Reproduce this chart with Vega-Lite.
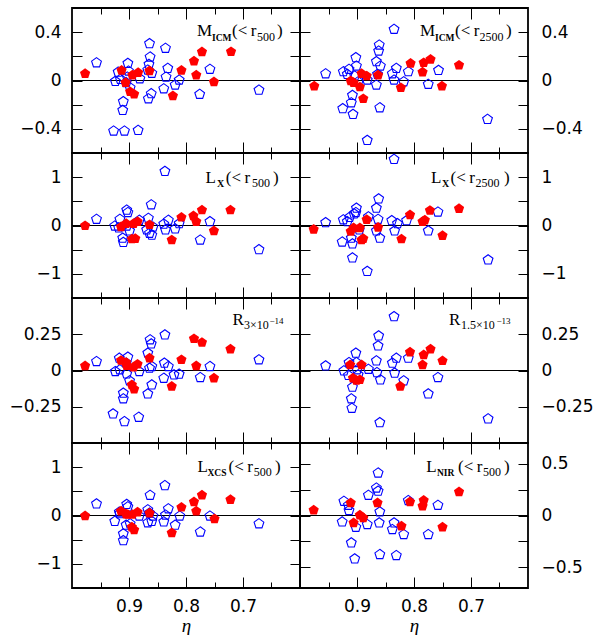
{
  "$schema": "https://vega.github.io/schema/vega-lite/v6.json",
  "background": "white",
  "padding": {"left": 5, "top": 6, "right": 5, "bottom": 5},
  "config": {
    "view": {"stroke": "black", "strokeWidth": 1.8},
    "axis": {"domain": false, "grid": false, "tickColor": "black", "tickWidth": 1, "labelFont": "DejaVu Sans", "labelFontSize": 17, "labelColor": "black", "labelOverlap": false, "labelFlush": false, "minExtent": 0},
    "text": {"font": "Liberation Serif", "color": "black", "align": "left", "baseline": "alphabetic"}
  },
  "datasets": {
    "m500": [
      {"set":"f","eta":0.977,"v":0.056},{"set":"f","eta":0.913,"v":0.084},{"set":"f","eta":0.906,"v":-0.018},{"set":"f","eta":0.898,"v":-0.093},{"set":"f","eta":0.891,"v":-0.114},{"set":"f","eta":0.894,"v":0.045},{"set":"f","eta":0.884,"v":0.065},{"set":"f","eta":0.864,"v":0.079},{"set":"f","eta":0.823,"v":-0.128},{"set":"f","eta":0.808,"v":0.084},{"set":"f","eta":0.786,"v":0.161},{"set":"f","eta":0.782,"v":0.045},{"set":"f","eta":0.772,"v":0.236},{"set":"f","eta":0.751,"v":-0.012},{"set":"f","eta":0.721,"v":0.238},
      {"set":"o","eta":0.957,"v":0.147},{"set":"o","eta":0.924,"v":-0.007},{"set":"o","eta":0.919,"v":0.070},{"set":"o","eta":0.915,"v":0.010},{"set":"o","eta":0.910,"v":-0.175},{"set":"o","eta":0.911,"v":-0.247},{"set":"o","eta":0.927,"v":-0.418},{"set":"o","eta":0.908,"v":-0.418},{"set":"o","eta":0.884,"v":-0.412},{"set":"o","eta":0.902,"v":0.142},{"set":"o","eta":0.901,"v":0.079},{"set":"o","eta":0.903,"v":0.029},{"set":"o","eta":0.905,"v":-0.018},{"set":"o","eta":0.898,"v":-0.060},{"set":"o","eta":0.881,"v":0.015},{"set":"o","eta":0.864,"v":0.305},{"set":"o","eta":0.863,"v":0.195},{"set":"o","eta":0.865,"v":0.134},{"set":"o","eta":0.867,"v":0.087},{"set":"o","eta":0.860,"v":0.060},{"set":"o","eta":0.861,"v":-0.109},{"set":"o","eta":0.866,"v":-0.151},{"set":"o","eta":0.836,"v":0.267},{"set":"o","eta":0.832,"v":0.101},{"set":"o","eta":0.835,"v":0.029},{"set":"o","eta":0.839,"v":-0.068},{"set":"o","eta":0.819,"v":-0.037},{"set":"o","eta":0.812,"v":0.004},{"set":"o","eta":0.776,"v":-0.114},{"set":"o","eta":0.758,"v":0.093},{"set":"o","eta":0.672,"v":-0.079}
    ],
    "m2500": [
      {"set":"f","eta":0.975,"v":-0.046},{"set":"f","eta":0.911,"v":-0.004},{"set":"f","eta":0.906,"v":-0.018},{"set":"f","eta":0.892,"v":0.056},{"set":"f","eta":0.883,"v":0.037},{"set":"f","eta":0.895,"v":-0.054},{"set":"f","eta":0.889,"v":-0.151},{"set":"f","eta":0.863,"v":0.045},{"set":"f","eta":0.823,"v":-0.060},{"set":"f","eta":0.806,"v":0.142},{"set":"f","eta":0.785,"v":0.070},{"set":"f","eta":0.783,"v":0.147},{"set":"f","eta":0.771,"v":0.175},{"set":"f","eta":0.751,"v":-0.046},{"set":"f","eta":0.721,"v":0.126},
      {"set":"o","eta":0.955,"v":0.056},{"set":"o","eta":0.924,"v":0.073},{"set":"o","eta":0.917,"v":0.051},{"set":"o","eta":0.914,"v":0.093},{"set":"o","eta":0.902,"v":0.189},{"set":"o","eta":0.901,"v":0.120},{"set":"o","eta":0.904,"v":0.037},{"set":"o","eta":0.898,"v":-0.010},{"set":"o","eta":0.908,"v":-0.123},{"set":"o","eta":0.910,"v":-0.184},{"set":"o","eta":0.925,"v":-0.233},{"set":"o","eta":0.907,"v":-0.280},{"set":"o","eta":0.882,"v":0.004},{"set":"o","eta":0.882,"v":-0.495},{"set":"o","eta":0.861,"v":0.294},{"set":"o","eta":0.862,"v":0.244},{"set":"o","eta":0.866,"v":0.156},{"set":"o","eta":0.859,"v":0.120},{"set":"o","eta":0.864,"v":0.051},{"set":"o","eta":0.866,"v":-0.037},{"set":"o","eta":0.860,"v":-0.225},{"set":"o","eta":0.835,"v":0.424},{"set":"o","eta":0.831,"v":0.101},{"set":"o","eta":0.838,"v":0.056},{"set":"o","eta":0.835,"v":0.004},{"set":"o","eta":0.818,"v":-0.010},{"set":"o","eta":0.810,"v":0.073},{"set":"o","eta":0.775,"v":-0.031},{"set":"o","eta":0.757,"v":0.084},{"set":"o","eta":0.671,"v":-0.321}
    ],
    "lx500": [
      {"set":"f","eta":0.977,"v":-0.005},{"set":"f","eta":0.914,"v":-0.03},{"set":"f","eta":0.905,"v":0.04},{"set":"f","eta":0.895,"v":-0.28},{"set":"f","eta":0.889,"v":-0.27},{"set":"f","eta":0.892,"v":0.04},{"set":"f","eta":0.885,"v":0.08},{"set":"f","eta":0.864,"v":0.015},{"set":"f","eta":0.825,"v":-0.30},{"set":"f","eta":0.808,"v":0.17},{"set":"f","eta":0.787,"v":0.20},{"set":"f","eta":0.782,"v":0.08},{"set":"f","eta":0.772,"v":0.32},{"set":"f","eta":0.751,"v":-0.11},{"set":"f","eta":0.722,"v":0.32},
      {"set":"o","eta":0.957,"v":0.13},{"set":"o","eta":0.925,"v":-0.01},{"set":"o","eta":0.916,"v":0.13},{"set":"o","eta":0.918,"v":-0.05},{"set":"o","eta":0.911,"v":-0.26},{"set":"o","eta":0.910,"v":-0.35},{"set":"o","eta":0.904,"v":0.32},{"set":"o","eta":0.902,"v":0.27},{"set":"o","eta":0.904,"v":-0.01},{"set":"o","eta":0.899,"v":-0.11},{"set":"o","eta":0.882,"v":0.11},{"set":"o","eta":0.861,"v":0.43},{"set":"o","eta":0.866,"v":0.15},{"set":"o","eta":0.869,"v":-0.09},{"set":"o","eta":0.864,"v":-0.16},{"set":"o","eta":0.860,"v":-0.20},{"set":"o","eta":0.858,"v":-0.03},{"set":"o","eta":0.837,"v":1.12},{"set":"o","eta":0.839,"v":0.03},{"set":"o","eta":0.836,"v":-0.09},{"set":"o","eta":0.831,"v":0.11},{"set":"o","eta":0.819,"v":-0.07},{"set":"o","eta":0.812,"v":0.04},{"set":"o","eta":0.775,"v":-0.30},{"set":"o","eta":0.758,"v":0.08},{"set":"o","eta":0.672,"v":-0.50}
    ],
    "lx2500": [
      {"set":"f","eta":0.976,"v":-0.08},{"set":"f","eta":0.911,"v":-0.12},{"set":"f","eta":0.906,"v":-0.05},{"set":"f","eta":0.895,"v":-0.05},{"set":"f","eta":0.892,"v":-0.30},{"set":"f","eta":0.889,"v":-0.27},{"set":"f","eta":0.883,"v":0.12},{"set":"f","eta":0.863,"v":-0.04},{"set":"f","eta":0.822,"v":-0.28},{"set":"f","eta":0.807,"v":0.22},{"set":"f","eta":0.785,"v":0.08},{"set":"f","eta":0.781,"v":0.11},{"set":"f","eta":0.772,"v":0.31},{"set":"f","eta":0.750,"v":-0.21},{"set":"f","eta":0.721,"v":0.35},
      {"set":"o","eta":0.955,"v":0.06},{"set":"o","eta":0.926,"v":-0.34},{"set":"o","eta":0.924,"v":0.12},{"set":"o","eta":0.917,"v":0.08},{"set":"o","eta":0.913,"v":0.17},{"set":"o","eta":0.910,"v":-0.26},{"set":"o","eta":0.908,"v":-0.38},{"set":"o","eta":0.908,"v":-0.67},{"set":"o","eta":0.905,"v":0.24},{"set":"o","eta":0.901,"v":0.36},{"set":"o","eta":0.902,"v":0.27},{"set":"o","eta":0.896,"v":-0.09},{"set":"o","eta":0.882,"v":-0.95},{"set":"o","eta":0.880,"v":0.18},{"set":"o","eta":0.866,"v":0.36},{"set":"o","eta":0.862,"v":0.55},{"set":"o","eta":0.863,"v":0.13},{"set":"o","eta":0.866,"v":-0.11},{"set":"o","eta":0.860,"v":-0.26},{"set":"o","eta":0.835,"v":1.37},{"set":"o","eta":0.839,"v":0.10},{"set":"o","eta":0.834,"v":-0.11},{"set":"o","eta":0.829,"v":0.04},{"set":"o","eta":0.813,"v":0.10},{"set":"o","eta":0.775,"v":-0.11},{"set":"o","eta":0.758,"v":0.28},{"set":"o","eta":0.670,"v":-0.71}
    ],
    "r14": [
      {"set":"f","eta":0.977,"v":0.032},{"set":"f","eta":0.914,"v":0.069},{"set":"f","eta":0.905,"v":0.055},{"set":"f","eta":0.904,"v":0.034},{"set":"f","eta":0.895,"v":-0.099},{"set":"f","eta":0.891,"v":-0.129},{"set":"f","eta":0.892,"v":0.023},{"set":"f","eta":0.885,"v":0.043},{"set":"f","eta":0.864,"v":0.085},{"set":"f","eta":0.825,"v":-0.110},{"set":"f","eta":0.808,"v":0.074},{"set":"f","eta":0.786,"v":0.219},{"set":"f","eta":0.782,"v":0.032},{"set":"f","eta":0.772,"v":0.193},{"set":"f","eta":0.751,"v":-0.053},{"set":"f","eta":0.722,"v":0.147},
      {"set":"o","eta":0.957,"v":0.062},{"set":"o","eta":0.928,"v":-0.299},{"set":"o","eta":0.924,"v":-0.007},{"set":"o","eta":0.917,"v":0.085},{"set":"o","eta":0.916,"v":0.005},{"set":"o","eta":0.908,"v":-0.352},{"set":"o","eta":0.910,"v":-0.156},{"set":"o","eta":0.910,"v":-0.195},{"set":"o","eta":0.904,"v":-0.023},{"set":"o","eta":0.902,"v":0.092},{"set":"o","eta":0.905,"v":0.051},{"set":"o","eta":0.899,"v":-0.071},{"set":"o","eta":0.883,"v":-0.322},{"set":"o","eta":0.882,"v":-0.007},{"set":"o","eta":0.867,"v":0.120},{"set":"o","eta":0.863,"v":0.212},{"set":"o","eta":0.861,"v":0.184},{"set":"o","eta":0.864,"v":0.016},{"set":"o","eta":0.860,"v":0.028},{"set":"o","eta":0.867,"v":-0.161},{"set":"o","eta":0.860,"v":-0.099},{"set":"o","eta":0.837,"v":0.246},{"set":"o","eta":0.838,"v":0.051},{"set":"o","eta":0.831,"v":0.028},{"set":"o","eta":0.839,"v":-0.053},{"set":"o","eta":0.821,"v":-0.030},{"set":"o","eta":0.812,"v":-0.025},{"set":"o","eta":0.775,"v":-0.048},{"set":"o","eta":0.758,"v":0.028},{"set":"o","eta":0.672,"v":0.074}
    ],
    "r13": [
      {"set":"f","eta":0.912,"v":0.039},{"set":"f","eta":0.907,"v":-0.053},{"set":"f","eta":0.901,"v":-0.069},{"set":"f","eta":0.895,"v":-0.064},{"set":"f","eta":0.892,"v":0.039},{"set":"f","eta":0.824,"v":-0.110},{"set":"f","eta":0.807,"v":0.126},{"set":"f","eta":0.785,"v":0.039},{"set":"f","eta":0.783,"v":0.108},{"set":"f","eta":0.771,"v":0.147},{"set":"f","eta":0.750,"v":0.067},
      {"set":"o","eta":0.955,"v":0.032},{"set":"o","eta":0.923,"v":-0.002},{"set":"o","eta":0.915,"v":-0.034},{"set":"o","eta":0.914,"v":0.055},{"set":"o","eta":0.908,"v":-0.115},{"set":"o","eta":0.910,"v":-0.195},{"set":"o","eta":0.909,"v":-0.260},{"set":"o","eta":0.902,"v":0.120},{"set":"o","eta":0.901,"v":0.055},{"set":"o","eta":0.900,"v":0.005},{"set":"o","eta":0.898,"v":-0.030},{"set":"o","eta":0.880,"v":0.009},{"set":"o","eta":0.862,"v":0.239},{"set":"o","eta":0.863,"v":0.170},{"set":"o","eta":0.866,"v":0.067},{"set":"o","eta":0.865,"v":-0.014},{"set":"o","eta":0.859,"v":-0.064},{"set":"o","eta":0.860,"v":-0.359},{"set":"o","eta":0.835,"v":0.372},{"set":"o","eta":0.838,"v":0.051},{"set":"o","eta":0.831,"v":0.085},{"set":"o","eta":0.834,"v":-0.018},{"set":"o","eta":0.818,"v":-0.071},{"set":"o","eta":0.810,"v":0.085},{"set":"o","eta":0.775,"v":-0.161},{"set":"o","eta":0.758,"v":-0.048},{"set":"o","eta":0.670,"v":-0.333}
    ],
    "lxcs": [
      {"set":"f","eta":0.977,"v":-0.01},{"set":"f","eta":0.914,"v":0.09},{"set":"f","eta":0.905,"v":0.03},{"set":"f","eta":0.902,"v":0.02},{"set":"f","eta":0.895,"v":-0.24},{"set":"f","eta":0.891,"v":-0.30},{"set":"f","eta":0.894,"v":0.02},{"set":"f","eta":0.885,"v":0.07},{"set":"f","eta":0.864,"v":0.05},{"set":"f","eta":0.825,"v":-0.36},{"set":"f","eta":0.808,"v":0.17},{"set":"f","eta":0.786,"v":0.28},{"set":"f","eta":0.782,"v":0.09},{"set":"f","eta":0.772,"v":0.42},{"set":"f","eta":0.750,"v":-0.07},{"set":"f","eta":0.722,"v":0.33},
      {"set":"o","eta":0.957,"v":0.24},{"set":"o","eta":0.925,"v":-0.12},{"set":"o","eta":0.917,"v":0.07},{"set":"o","eta":0.916,"v":0.04},{"set":"o","eta":0.910,"v":-0.38},{"set":"o","eta":0.910,"v":-0.52},{"set":"o","eta":0.904,"v":0.23},{"set":"o","eta":0.902,"v":0.18},{"set":"o","eta":0.905,"v":-0.20},{"set":"o","eta":0.898,"v":-0.17},{"set":"o","eta":0.882,"v":-0.01},{"set":"o","eta":0.863,"v":0.42},{"set":"o","eta":0.867,"v":0.12},{"set":"o","eta":0.864,"v":0.05},{"set":"o","eta":0.867,"v":-0.15},{"set":"o","eta":0.860,"v":-0.12},{"set":"o","eta":0.858,"v":-0.01},{"set":"o","eta":0.837,"v":0.62},{"set":"o","eta":0.839,"v":-0.13},{"set":"o","eta":0.836,"v":0.01},{"set":"o","eta":0.831,"v":0.14},{"set":"o","eta":0.819,"v":-0.20},{"set":"o","eta":0.811,"v":-0.01},{"set":"o","eta":0.775,"v":-0.34},{"set":"o","eta":0.758,"v":-0.01},{"set":"o","eta":0.672,"v":-0.17}
    ],
    "lnir": [
      {"set":"f","eta":0.976,"v":0.051},{"set":"f","eta":0.911,"v":0.122},{"set":"f","eta":0.906,"v":-0.071},{"set":"f","eta":0.895,"v":0.003},{"set":"f","eta":0.889,"v":-0.023},{"set":"f","eta":0.864,"v":0.122},{"set":"f","eta":0.822,"v":-0.103},{"set":"f","eta":0.807,"v":0.131},{"set":"f","eta":0.785,"v":0.090},{"set":"f","eta":0.783,"v":0.145},{"set":"f","eta":0.750,"v":-0.113},{"set":"f","eta":0.721,"v":0.228},
      {"set":"o","eta":0.926,"v":-0.062},{"set":"o","eta":0.923,"v":0.138},{"set":"o","eta":0.915,"v":0.099},{"set":"o","eta":0.914,"v":0.048},{"set":"o","eta":0.910,"v":-0.264},{"set":"o","eta":0.904,"v":-0.419},{"set":"o","eta":0.902,"v":-0.113},{"set":"o","eta":0.880,"v":0.196},{"set":"o","eta":0.882,"v":-0.087},{"set":"o","eta":0.863,"v":0.411},{"set":"o","eta":0.866,"v":0.266},{"set":"o","eta":0.863,"v":0.235},{"set":"o","eta":0.860,"v":0.035},{"set":"o","eta":0.861,"v":-0.071},{"set":"o","eta":0.860,"v":-0.376},{"set":"o","eta":0.835,"v":-0.071},{"set":"o","eta":0.838,"v":-0.135},{"set":"o","eta":0.831,"v":-0.386},{"set":"o","eta":0.818,"v":-0.183},{"set":"o","eta":0.810,"v":0.145},{"set":"o","eta":0.775,"v":-0.183},{"set":"o","eta":0.758,"v":0.099}
    ]
  },
  "columns": 2,
  "spacing": 0,
  "bounds": "flush",
  "concat": [
      {"width": 228, "height": 145, "data": {"values": [{}]},
       "resolve": {"axis": {"x": "independent", "y": "independent"}},
       "layer": [
        {"mark": {"type": "rule", "color": "black", "strokeWidth": 1},
         "encoding": {
          "x": {"datum": 1, "type": "quantitative", "scale": {"domain": [1, 0.6], "nice": false, "zero": false}, "axis": {"orient": "bottom", "values": [0.9, 0.8, 0.7], "tickSize": -11, "labels": false, "title": null}},
          "x2": {"datum": 0.6},
          "y": {"datum": 0, "type": "quantitative", "scale": {"domain": [-0.6, 0.6], "nice": false}, "axis": {"orient": "left", "values": [-0.4, -0.2, 0, 0.2, 0.4], "tickSize": -10, "labelPadding": 21, "format": "~g", "labelExpr": "datum.value == 0 || abs(datum.value) == 0.4 ? datum.label : ''", "minExtent": 66, "maxExtent": 66, "title": null}}}},
        {"data": {"name": "m500"}, "transform": [{"filter": "datum.set == 'o'"}],
         "mark": {"type": "point", "shape": "M0,-1L0.951,-0.309L0.588,0.809L-0.588,0.809L-0.951,-0.309Z", "filled": false, "stroke": "#0000ff", "strokeWidth": 1.1, "size": 105, "opacity": 1},
         "encoding": {
          "x": {"field": "eta", "type": "quantitative", "scale": {"domain": [1, 0.6], "nice": false, "zero": false}, "axis": {"orient": "top", "values": [0.9, 0.8, 0.7], "tickSize": -11, "labels": false, "title": null}},
          "y": {"field": "v", "type": "quantitative", "scale": {"domain": [-0.6, 0.6], "nice": false}, "axis": {"orient": "right", "values": [-0.4, -0.2, 0, 0.2, 0.4], "tickSize": -10, "labels": false, "title": null}}}},
        {"data": {"name": "m500"}, "transform": [{"filter": "datum.set == 'f'"}],
         "mark": {"type": "point", "shape": "M0,-1L0.951,-0.309L0.588,0.809L-0.588,0.809L-0.951,-0.309Z", "filled": true, "color": "#ff0000", "size": 115, "opacity": 1},
         "encoding": {
          "x": {"field": "eta", "type": "quantitative", "scale": {"domain": [1, 0.6], "nice": false, "zero": false}, "axis": {"orient": "bottom", "values": [0.95, 0.85, 0.75, 0.65], "tickSize": -6, "labels": false, "title": null}},
          "y": {"field": "v", "type": "quantitative", "scale": {"domain": [-0.6, 0.6], "nice": false}, "axis": null}}},
        {"mark": {"type": "text", "text": "M", "fontSize": 17, "dx": -103, "dy": 28},
         "encoding": {"x": {"datum": 0.6, "type": "quantitative", "scale": {"domain": [1, 0.6], "nice": false, "zero": false}, "axis": {"orient": "top", "values": [0.95, 0.85, 0.75, 0.65], "tickSize": -6, "labels": false, "title": null}},
          "y": {"datum": 0.6, "type": "quantitative", "scale": {"domain": [-0.6, 0.6], "nice": false}, "axis": null}}},
        {"mark": {"type": "text", "text": "ICM", "fontSize": 9.5, "fontWeight": "bold", "dx": -88, "dy": 33},
         "encoding": {"x": {"datum": 0.6, "type": "quantitative", "scale": {"domain": [1, 0.6], "nice": false, "zero": false}, "axis": null}, "y": {"datum": 0.6, "type": "quantitative", "scale": {"domain": [-0.6, 0.6], "nice": false}, "axis": null}}},
        {"mark": {"type": "text", "text": "(<\u2009r", "fontSize": 17, "dx": -68, "dy": 28},
         "encoding": {"x": {"datum": 0.6, "type": "quantitative", "scale": {"domain": [1, 0.6], "nice": false, "zero": false}, "axis": null}, "y": {"datum": 0.6, "type": "quantitative", "scale": {"domain": [-0.6, 0.6], "nice": false}, "axis": null}}},
        {"mark": {"type": "text", "text": "500", "fontSize": 12, "dx": -43, "dy": 33},
         "encoding": {"x": {"datum": 0.6, "type": "quantitative", "scale": {"domain": [1, 0.6], "nice": false, "zero": false}, "axis": null}, "y": {"datum": 0.6, "type": "quantitative", "scale": {"domain": [-0.6, 0.6], "nice": false}, "axis": null}}},
        {"mark": {"type": "text", "text": ")", "fontSize": 17, "dx": -23, "dy": 28},
         "encoding": {"x": {"datum": 0.6, "type": "quantitative", "scale": {"domain": [1, 0.6], "nice": false, "zero": false}, "axis": null}, "y": {"datum": 0.6, "type": "quantitative", "scale": {"domain": [-0.6, 0.6], "nice": false}, "axis": null}}}
       ]},
      {"width": 228, "height": 145, "data": {"values": [{}]},
       "resolve": {"axis": {"x": "independent", "y": "independent"}},
       "layer": [
        {"mark": {"type": "rule", "color": "black", "strokeWidth": 1},
         "encoding": {
          "x": {"datum": 1, "type": "quantitative", "scale": {"domain": [1, 0.6], "nice": false, "zero": false}, "axis": {"orient": "bottom", "values": [0.9, 0.8, 0.7], "tickSize": -11, "labels": false, "title": null}},
          "x2": {"datum": 0.6},
          "y": {"datum": 0, "type": "quantitative", "scale": {"domain": [-0.6, 0.6], "nice": false}, "axis": {"orient": "left", "values": [-0.4, -0.2, 0, 0.2, 0.4], "tickSize": -10, "labels": false, "title": null}}}},
        {"data": {"name": "m2500"}, "transform": [{"filter": "datum.set == 'o'"}],
         "mark": {"type": "point", "shape": "M0,-1L0.951,-0.309L0.588,0.809L-0.588,0.809L-0.951,-0.309Z", "filled": false, "stroke": "#0000ff", "strokeWidth": 1.1, "size": 105, "opacity": 1},
         "encoding": {
          "x": {"field": "eta", "type": "quantitative", "scale": {"domain": [1, 0.6], "nice": false, "zero": false}, "axis": {"orient": "top", "values": [0.9, 0.8, 0.7], "tickSize": -11, "labels": false, "title": null}},
          "y": {"field": "v", "type": "quantitative", "scale": {"domain": [-0.6, 0.6], "nice": false}, "axis": {"orient": "right", "values": [-0.4, -0.2, 0, 0.2, 0.4], "tickSize": -10, "labelPadding": 23, "format": "~g", "labelExpr": "datum.value == 0 || abs(datum.value) == 0.4 ? datum.label : ''", "title": null}}}},
        {"data": {"name": "m2500"}, "transform": [{"filter": "datum.set == 'f'"}],
         "mark": {"type": "point", "shape": "M0,-1L0.951,-0.309L0.588,0.809L-0.588,0.809L-0.951,-0.309Z", "filled": true, "color": "#ff0000", "size": 115, "opacity": 1},
         "encoding": {
          "x": {"field": "eta", "type": "quantitative", "scale": {"domain": [1, 0.6], "nice": false, "zero": false}, "axis": {"orient": "bottom", "values": [0.95, 0.85, 0.75, 0.65], "tickSize": -6, "labels": false, "title": null}},
          "y": {"field": "v", "type": "quantitative", "scale": {"domain": [-0.6, 0.6], "nice": false}, "axis": null}}},
        {"mark": {"type": "text", "text": "M", "fontSize": 17, "dx": -108, "dy": 28},
         "encoding": {"x": {"datum": 0.6, "type": "quantitative", "scale": {"domain": [1, 0.6], "nice": false, "zero": false}, "axis": {"orient": "top", "values": [0.95, 0.85, 0.75, 0.65], "tickSize": -6, "labels": false, "title": null}},
          "y": {"datum": 0.6, "type": "quantitative", "scale": {"domain": [-0.6, 0.6], "nice": false}, "axis": null}}},
        {"mark": {"type": "text", "text": "ICM", "fontSize": 9.5, "fontWeight": "bold", "dx": -93, "dy": 33},
         "encoding": {"x": {"datum": 0.6, "type": "quantitative", "scale": {"domain": [1, 0.6], "nice": false, "zero": false}, "axis": null}, "y": {"datum": 0.6, "type": "quantitative", "scale": {"domain": [-0.6, 0.6], "nice": false}, "axis": null}}},
        {"mark": {"type": "text", "text": "(<\u2009r", "fontSize": 17, "dx": -73, "dy": 28},
         "encoding": {"x": {"datum": 0.6, "type": "quantitative", "scale": {"domain": [1, 0.6], "nice": false, "zero": false}, "axis": null}, "y": {"datum": 0.6, "type": "quantitative", "scale": {"domain": [-0.6, 0.6], "nice": false}, "axis": null}}},
        {"mark": {"type": "text", "text": "2500", "fontSize": 12, "dx": -48.5, "dy": 33},
         "encoding": {"x": {"datum": 0.6, "type": "quantitative", "scale": {"domain": [1, 0.6], "nice": false, "zero": false}, "axis": null}, "y": {"datum": 0.6, "type": "quantitative", "scale": {"domain": [-0.6, 0.6], "nice": false}, "axis": null}}},
        {"mark": {"type": "text", "text": ")", "fontSize": 17, "dx": -22, "dy": 28},
         "encoding": {"x": {"datum": 0.6, "type": "quantitative", "scale": {"domain": [1, 0.6], "nice": false, "zero": false}, "axis": null}, "y": {"datum": 0.6, "type": "quantitative", "scale": {"domain": [-0.6, 0.6], "nice": false}, "axis": null}}}
       ]},
      {"width": 228, "height": 145, "data": {"values": [{}]},
       "resolve": {"axis": {"x": "independent", "y": "independent"}},
       "layer": [
        {"mark": {"type": "rule", "color": "black", "strokeWidth": 1},
         "encoding": {
          "x": {"datum": 1, "type": "quantitative", "scale": {"domain": [1, 0.6], "nice": false, "zero": false}, "axis": {"orient": "bottom", "values": [0.9, 0.8, 0.7], "tickSize": -11, "labels": false, "title": null}},
          "x2": {"datum": 0.6},
          "y": {"datum": 0, "type": "quantitative", "scale": {"domain": [-1.5, 1.5], "nice": false}, "axis": {"orient": "left", "values": [-1, -0.5, 0, 0.5, 1], "tickSize": -10, "labelPadding": 21, "format": "~g", "labelExpr": "datum.value % 1 == 0 ? datum.label : ''", "minExtent": 66, "maxExtent": 66, "title": null}}}},
        {"data": {"name": "lx500"}, "transform": [{"filter": "datum.set == 'o'"}],
         "mark": {"type": "point", "shape": "M0,-1L0.951,-0.309L0.588,0.809L-0.588,0.809L-0.951,-0.309Z", "filled": false, "stroke": "#0000ff", "strokeWidth": 1.1, "size": 105, "opacity": 1},
         "encoding": {
          "x": {"field": "eta", "type": "quantitative", "scale": {"domain": [1, 0.6], "nice": false, "zero": false}, "axis": {"orient": "top", "values": [0.9, 0.8, 0.7], "tickSize": -11, "labels": false, "title": null}},
          "y": {"field": "v", "type": "quantitative", "scale": {"domain": [-1.5, 1.5], "nice": false}, "axis": {"orient": "right", "values": [-1, -0.5, 0, 0.5, 1], "tickSize": -10, "labels": false, "title": null}}}},
        {"data": {"name": "lx500"}, "transform": [{"filter": "datum.set == 'f'"}],
         "mark": {"type": "point", "shape": "M0,-1L0.951,-0.309L0.588,0.809L-0.588,0.809L-0.951,-0.309Z", "filled": true, "color": "#ff0000", "size": 115, "opacity": 1},
         "encoding": {
          "x": {"field": "eta", "type": "quantitative", "scale": {"domain": [1, 0.6], "nice": false, "zero": false}, "axis": {"orient": "bottom", "values": [0.95, 0.85, 0.75, 0.65], "tickSize": -6, "labels": false, "title": null}},
          "y": {"field": "v", "type": "quantitative", "scale": {"domain": [-1.5, 1.5], "nice": false}, "axis": null}}},
        {"mark": {"type": "text", "text": "L", "fontSize": 17, "dx": -94.5, "dy": 29.5},
         "encoding": {"x": {"datum": 0.6, "type": "quantitative", "scale": {"domain": [1, 0.6], "nice": false, "zero": false}, "axis": {"orient": "top", "values": [0.95, 0.85, 0.75, 0.65], "tickSize": -6, "labels": false, "title": null}},
          "y": {"datum": 1.5, "type": "quantitative", "scale": {"domain": [-1.5, 1.5], "nice": false}, "axis": null}}},
        {"mark": {"type": "text", "text": "X", "fontSize": 10, "fontWeight": "bold", "dx": -83, "dy": 34},
         "encoding": {"x": {"datum": 0.6, "type": "quantitative", "scale": {"domain": [1, 0.6], "nice": false, "zero": false}, "axis": null}, "y": {"datum": 1.5, "type": "quantitative", "scale": {"domain": [-1.5, 1.5], "nice": false}, "axis": null}}},
        {"mark": {"type": "text", "text": "(<\u2009r", "fontSize": 17, "dx": -74.2, "dy": 29.5},
         "encoding": {"x": {"datum": 0.6, "type": "quantitative", "scale": {"domain": [1, 0.6], "nice": false, "zero": false}, "axis": null}, "y": {"datum": 1.5, "type": "quantitative", "scale": {"domain": [-1.5, 1.5], "nice": false}, "axis": null}}},
        {"mark": {"type": "text", "text": "500", "fontSize": 12, "dx": -48, "dy": 34},
         "encoding": {"x": {"datum": 0.6, "type": "quantitative", "scale": {"domain": [1, 0.6], "nice": false, "zero": false}, "axis": null}, "y": {"datum": 1.5, "type": "quantitative", "scale": {"domain": [-1.5, 1.5], "nice": false}, "axis": null}}},
        {"mark": {"type": "text", "text": ")", "fontSize": 17, "dx": -27, "dy": 29.5},
         "encoding": {"x": {"datum": 0.6, "type": "quantitative", "scale": {"domain": [1, 0.6], "nice": false, "zero": false}, "axis": null}, "y": {"datum": 1.5, "type": "quantitative", "scale": {"domain": [-1.5, 1.5], "nice": false}, "axis": null}}}
       ]},
      {"width": 228, "height": 145, "data": {"values": [{}]},
       "resolve": {"axis": {"x": "independent", "y": "independent"}},
       "layer": [
        {"mark": {"type": "rule", "color": "black", "strokeWidth": 1},
         "encoding": {
          "x": {"datum": 1, "type": "quantitative", "scale": {"domain": [1, 0.6], "nice": false, "zero": false}, "axis": {"orient": "bottom", "values": [0.9, 0.8, 0.7], "tickSize": -11, "labels": false, "title": null}},
          "x2": {"datum": 0.6},
          "y": {"datum": 0, "type": "quantitative", "scale": {"domain": [-1.5, 1.5], "nice": false}, "axis": {"orient": "left", "values": [-1, -0.5, 0, 0.5, 1], "tickSize": -10, "labels": false, "title": null}}}},
        {"data": {"name": "lx2500"}, "transform": [{"filter": "datum.set == 'o'"}],
         "mark": {"type": "point", "shape": "M0,-1L0.951,-0.309L0.588,0.809L-0.588,0.809L-0.951,-0.309Z", "filled": false, "stroke": "#0000ff", "strokeWidth": 1.1, "size": 105, "opacity": 1},
         "encoding": {
          "x": {"field": "eta", "type": "quantitative", "scale": {"domain": [1, 0.6], "nice": false, "zero": false}, "axis": {"orient": "top", "values": [0.9, 0.8, 0.7], "tickSize": -11, "labels": false, "title": null}},
          "y": {"field": "v", "type": "quantitative", "scale": {"domain": [-1.5, 1.5], "nice": false}, "axis": {"orient": "right", "values": [-1, -0.5, 0, 0.5, 1], "tickSize": -10, "labelPadding": 23, "format": "~g", "labelExpr": "datum.value % 1 == 0 ? datum.label : ''", "title": null}}}},
        {"data": {"name": "lx2500"}, "transform": [{"filter": "datum.set == 'f'"}],
         "mark": {"type": "point", "shape": "M0,-1L0.951,-0.309L0.588,0.809L-0.588,0.809L-0.951,-0.309Z", "filled": true, "color": "#ff0000", "size": 115, "opacity": 1},
         "encoding": {
          "x": {"field": "eta", "type": "quantitative", "scale": {"domain": [1, 0.6], "nice": false, "zero": false}, "axis": {"orient": "bottom", "values": [0.95, 0.85, 0.75, 0.65], "tickSize": -6, "labels": false, "title": null}},
          "y": {"field": "v", "type": "quantitative", "scale": {"domain": [-1.5, 1.5], "nice": false}, "axis": null}}},
        {"mark": {"type": "text", "text": "L", "fontSize": 17, "dx": -97, "dy": 29.5},
         "encoding": {"x": {"datum": 0.6, "type": "quantitative", "scale": {"domain": [1, 0.6], "nice": false, "zero": false}, "axis": {"orient": "top", "values": [0.95, 0.85, 0.75, 0.65], "tickSize": -6, "labels": false, "title": null}},
          "y": {"datum": 1.5, "type": "quantitative", "scale": {"domain": [-1.5, 1.5], "nice": false}, "axis": null}}},
        {"mark": {"type": "text", "text": "X", "fontSize": 10, "fontWeight": "bold", "dx": -86, "dy": 34},
         "encoding": {"x": {"datum": 0.6, "type": "quantitative", "scale": {"domain": [1, 0.6], "nice": false, "zero": false}, "axis": null}, "y": {"datum": 1.5, "type": "quantitative", "scale": {"domain": [-1.5, 1.5], "nice": false}, "axis": null}}},
        {"mark": {"type": "text", "text": "(<\u2009r", "fontSize": 17, "dx": -77.5, "dy": 29.5},
         "encoding": {"x": {"datum": 0.6, "type": "quantitative", "scale": {"domain": [1, 0.6], "nice": false, "zero": false}, "axis": null}, "y": {"datum": 1.5, "type": "quantitative", "scale": {"domain": [-1.5, 1.5], "nice": false}, "axis": null}}},
        {"mark": {"type": "text", "text": "2500", "fontSize": 12, "dx": -52.5, "dy": 34},
         "encoding": {"x": {"datum": 0.6, "type": "quantitative", "scale": {"domain": [1, 0.6], "nice": false, "zero": false}, "axis": null}, "y": {"datum": 1.5, "type": "quantitative", "scale": {"domain": [-1.5, 1.5], "nice": false}, "axis": null}}},
        {"mark": {"type": "text", "text": ")", "fontSize": 17, "dx": -24, "dy": 29.5},
         "encoding": {"x": {"datum": 0.6, "type": "quantitative", "scale": {"domain": [1, 0.6], "nice": false, "zero": false}, "axis": null}, "y": {"datum": 1.5, "type": "quantitative", "scale": {"domain": [-1.5, 1.5], "nice": false}, "axis": null}}}
       ]},
      {"width": 228, "height": 145, "data": {"values": [{}]},
       "resolve": {"axis": {"x": "independent", "y": "independent"}},
       "layer": [
        {"mark": {"type": "rule", "color": "black", "strokeWidth": 1},
         "encoding": {
          "x": {"datum": 1, "type": "quantitative", "scale": {"domain": [1, 0.6], "nice": false, "zero": false}, "axis": {"orient": "bottom", "values": [0.9, 0.8, 0.7], "tickSize": -11, "labels": false, "title": null}},
          "x2": {"datum": 0.6},
          "y": {"datum": 0, "type": "quantitative", "scale": {"domain": [-0.5, 0.5], "nice": false}, "axis": {"orient": "left", "values": [-0.25, 0, 0.25], "tickSize": -10, "labelPadding": 21, "format": "~g", "minExtent": 66, "maxExtent": 66, "title": null}}}},
        {"data": {"name": "r14"}, "transform": [{"filter": "datum.set == 'o'"}],
         "mark": {"type": "point", "shape": "M0,-1L0.951,-0.309L0.588,0.809L-0.588,0.809L-0.951,-0.309Z", "filled": false, "stroke": "#0000ff", "strokeWidth": 1.1, "size": 105, "opacity": 1},
         "encoding": {
          "x": {"field": "eta", "type": "quantitative", "scale": {"domain": [1, 0.6], "nice": false, "zero": false}, "axis": {"orient": "top", "values": [0.9, 0.8, 0.7], "tickSize": -11, "labels": false, "title": null}},
          "y": {"field": "v", "type": "quantitative", "scale": {"domain": [-0.5, 0.5], "nice": false}, "axis": {"orient": "right", "values": [-0.25, 0, 0.25], "tickSize": -10, "labels": false, "title": null}}}},
        {"data": {"name": "r14"}, "transform": [{"filter": "datum.set == 'f'"}],
         "mark": {"type": "point", "shape": "M0,-1L0.951,-0.309L0.588,0.809L-0.588,0.809L-0.951,-0.309Z", "filled": true, "color": "#ff0000", "size": 115, "opacity": 1},
         "encoding": {
          "x": {"field": "eta", "type": "quantitative", "scale": {"domain": [1, 0.6], "nice": false, "zero": false}, "axis": {"orient": "bottom", "values": [0.95, 0.85, 0.75, 0.65], "tickSize": -6, "labels": false, "title": null}},
          "y": {"field": "v", "type": "quantitative", "scale": {"domain": [-0.5, 0.5], "nice": false}, "axis": null}}},
        {"mark": {"type": "text", "text": "R", "fontSize": 17, "dx": -67.5, "dy": 27},
         "encoding": {"x": {"datum": 0.6, "type": "quantitative", "scale": {"domain": [1, 0.6], "nice": false, "zero": false}, "axis": {"orient": "top", "values": [0.95, 0.85, 0.75, 0.65], "tickSize": -6, "labels": false, "title": null}},
          "y": {"datum": 0.5, "type": "quantitative", "scale": {"domain": [-0.5, 0.5], "nice": false}, "axis": null}}},
        {"mark": {"type": "text", "text": "3×10", "fontSize": 12, "dx": -56, "dy": 31},
         "encoding": {"x": {"datum": 0.6, "type": "quantitative", "scale": {"domain": [1, 0.6], "nice": false, "zero": false}, "axis": null}, "y": {"datum": 0.5, "type": "quantitative", "scale": {"domain": [-0.5, 0.5], "nice": false}, "axis": null}}},
        {"mark": {"type": "text", "text": "−14", "fontSize": 9, "dx": -30.5, "dy": 26},
         "encoding": {"x": {"datum": 0.6, "type": "quantitative", "scale": {"domain": [1, 0.6], "nice": false, "zero": false}, "axis": null}, "y": {"datum": 0.5, "type": "quantitative", "scale": {"domain": [-0.5, 0.5], "nice": false}, "axis": null}}}
       ]},
      {"width": 228, "height": 145, "data": {"values": [{}]},
       "resolve": {"axis": {"x": "independent", "y": "independent"}},
       "layer": [
        {"mark": {"type": "rule", "color": "black", "strokeWidth": 1},
         "encoding": {
          "x": {"datum": 1, "type": "quantitative", "scale": {"domain": [1, 0.6], "nice": false, "zero": false}, "axis": {"orient": "bottom", "values": [0.9, 0.8, 0.7], "tickSize": -11, "labels": false, "title": null}},
          "x2": {"datum": 0.6},
          "y": {"datum": 0, "type": "quantitative", "scale": {"domain": [-0.5, 0.5], "nice": false}, "axis": {"orient": "left", "values": [-0.25, 0, 0.25], "tickSize": -10, "labels": false, "title": null}}}},
        {"data": {"name": "r13"}, "transform": [{"filter": "datum.set == 'o'"}],
         "mark": {"type": "point", "shape": "M0,-1L0.951,-0.309L0.588,0.809L-0.588,0.809L-0.951,-0.309Z", "filled": false, "stroke": "#0000ff", "strokeWidth": 1.1, "size": 105, "opacity": 1},
         "encoding": {
          "x": {"field": "eta", "type": "quantitative", "scale": {"domain": [1, 0.6], "nice": false, "zero": false}, "axis": {"orient": "top", "values": [0.9, 0.8, 0.7], "tickSize": -11, "labels": false, "title": null}},
          "y": {"field": "v", "type": "quantitative", "scale": {"domain": [-0.5, 0.5], "nice": false}, "axis": {"orient": "right", "values": [-0.25, 0, 0.25], "tickSize": -10, "labelPadding": 23, "format": "~g", "title": null}}}},
        {"data": {"name": "r13"}, "transform": [{"filter": "datum.set == 'f'"}],
         "mark": {"type": "point", "shape": "M0,-1L0.951,-0.309L0.588,0.809L-0.588,0.809L-0.951,-0.309Z", "filled": true, "color": "#ff0000", "size": 115, "opacity": 1},
         "encoding": {
          "x": {"field": "eta", "type": "quantitative", "scale": {"domain": [1, 0.6], "nice": false, "zero": false}, "axis": {"orient": "bottom", "values": [0.95, 0.85, 0.75, 0.65], "tickSize": -6, "labels": false, "title": null}},
          "y": {"field": "v", "type": "quantitative", "scale": {"domain": [-0.5, 0.5], "nice": false}, "axis": null}}},
        {"mark": {"type": "text", "text": "R", "fontSize": 17, "dx": -79, "dy": 27},
         "encoding": {"x": {"datum": 0.6, "type": "quantitative", "scale": {"domain": [1, 0.6], "nice": false, "zero": false}, "axis": {"orient": "top", "values": [0.95, 0.85, 0.75, 0.65], "tickSize": -6, "labels": false, "title": null}},
          "y": {"datum": 0.5, "type": "quantitative", "scale": {"domain": [-0.5, 0.5], "nice": false}, "axis": null}}},
        {"mark": {"type": "text", "text": "1.5×10", "fontSize": 12, "dx": -67, "dy": 31},
         "encoding": {"x": {"datum": 0.6, "type": "quantitative", "scale": {"domain": [1, 0.6], "nice": false, "zero": false}, "axis": null}, "y": {"datum": 0.5, "type": "quantitative", "scale": {"domain": [-0.5, 0.5], "nice": false}, "axis": null}}},
        {"mark": {"type": "text", "text": "−13", "fontSize": 9, "dx": -31.5, "dy": 26},
         "encoding": {"x": {"datum": 0.6, "type": "quantitative", "scale": {"domain": [1, 0.6], "nice": false, "zero": false}, "axis": null}, "y": {"datum": 0.5, "type": "quantitative", "scale": {"domain": [-0.5, 0.5], "nice": false}, "axis": null}}}
       ]},
      {"width": 228, "height": 145, "data": {"values": [{}]},
       "resolve": {"axis": {"x": "independent", "y": "independent"}},
       "layer": [
        {"mark": {"type": "rule", "color": "black", "strokeWidth": 1},
         "encoding": {
          "x": {"datum": 1, "type": "quantitative", "scale": {"domain": [1, 0.6], "nice": false, "zero": false}, "axis": {"orient": "bottom", "values": [0.9, 0.8, 0.7], "tickSize": -11, "labelPadding": 21, "format": ".1f", "title": "η", "titleFont": "Liberation Serif", "titleFontStyle": "italic", "titleFontSize": 19, "titleFontWeight": "normal", "titleColor": "black", "titlePadding": 2}},
          "x2": {"datum": 0.6},
          "y": {"datum": 0, "type": "quantitative", "scale": {"domain": [-1.5, 1.5], "nice": false}, "axis": {"orient": "left", "values": [-1, -0.5, 0, 0.5, 1], "tickSize": -10, "labelPadding": 21, "format": "~g", "labelExpr": "datum.value % 1 == 0 ? datum.label : ''", "minExtent": 66, "maxExtent": 66, "title": null}}}},
        {"data": {"name": "lxcs"}, "transform": [{"filter": "datum.set == 'o'"}],
         "mark": {"type": "point", "shape": "M0,-1L0.951,-0.309L0.588,0.809L-0.588,0.809L-0.951,-0.309Z", "filled": false, "stroke": "#0000ff", "strokeWidth": 1.1, "size": 105, "opacity": 1},
         "encoding": {
          "x": {"field": "eta", "type": "quantitative", "scale": {"domain": [1, 0.6], "nice": false, "zero": false}, "axis": {"orient": "top", "values": [0.9, 0.8, 0.7], "tickSize": -11, "labels": false, "title": null}},
          "y": {"field": "v", "type": "quantitative", "scale": {"domain": [-1.5, 1.5], "nice": false}, "axis": {"orient": "right", "values": [-1, -0.5, 0, 0.5, 1], "tickSize": -10, "labels": false, "title": null}}}},
        {"data": {"name": "lxcs"}, "transform": [{"filter": "datum.set == 'f'"}],
         "mark": {"type": "point", "shape": "M0,-1L0.951,-0.309L0.588,0.809L-0.588,0.809L-0.951,-0.309Z", "filled": true, "color": "#ff0000", "size": 115, "opacity": 1},
         "encoding": {
          "x": {"field": "eta", "type": "quantitative", "scale": {"domain": [1, 0.6], "nice": false, "zero": false}, "axis": {"orient": "bottom", "values": [0.95, 0.85, 0.75, 0.65], "tickSize": -6, "labels": false, "title": null}},
          "y": {"field": "v", "type": "quantitative", "scale": {"domain": [-1.5, 1.5], "nice": false}, "axis": null}}},
        {"mark": {"type": "text", "text": "L", "fontSize": 17, "dx": -102.5, "dy": 29},
         "encoding": {"x": {"datum": 0.6, "type": "quantitative", "scale": {"domain": [1, 0.6], "nice": false, "zero": false}, "axis": {"orient": "top", "values": [0.95, 0.85, 0.75, 0.65], "tickSize": -6, "labels": false, "title": null}},
          "y": {"datum": 1.5, "type": "quantitative", "scale": {"domain": [-1.5, 1.5], "nice": false}, "axis": null}}},
        {"mark": {"type": "text", "text": "XCS", "fontSize": 9.5, "fontWeight": "bold", "dx": -92.5, "dy": 32.5},
         "encoding": {"x": {"datum": 0.6, "type": "quantitative", "scale": {"domain": [1, 0.6], "nice": false, "zero": false}, "axis": null}, "y": {"datum": 1.5, "type": "quantitative", "scale": {"domain": [-1.5, 1.5], "nice": false}, "axis": null}}},
        {"mark": {"type": "text", "text": "(<\u2009r", "fontSize": 17, "dx": -71.5, "dy": 29},
         "encoding": {"x": {"datum": 0.6, "type": "quantitative", "scale": {"domain": [1, 0.6], "nice": false, "zero": false}, "axis": null}, "y": {"datum": 1.5, "type": "quantitative", "scale": {"domain": [-1.5, 1.5], "nice": false}, "axis": null}}},
        {"mark": {"type": "text", "text": "500", "fontSize": 12, "dx": -46.2, "dy": 32.5},
         "encoding": {"x": {"datum": 0.6, "type": "quantitative", "scale": {"domain": [1, 0.6], "nice": false, "zero": false}, "axis": null}, "y": {"datum": 1.5, "type": "quantitative", "scale": {"domain": [-1.5, 1.5], "nice": false}, "axis": null}}},
        {"mark": {"type": "text", "text": ")", "fontSize": 17, "dx": -25, "dy": 29},
         "encoding": {"x": {"datum": 0.6, "type": "quantitative", "scale": {"domain": [1, 0.6], "nice": false, "zero": false}, "axis": null}, "y": {"datum": 1.5, "type": "quantitative", "scale": {"domain": [-1.5, 1.5], "nice": false}, "axis": null}}}
       ]},
      {"width": 228, "height": 145, "data": {"values": [{}]},
       "resolve": {"axis": {"x": "independent", "y": "independent"}},
       "layer": [
        {"mark": {"type": "rule", "color": "black", "strokeWidth": 1},
         "encoding": {
          "x": {"datum": 1, "type": "quantitative", "scale": {"domain": [1, 0.6], "nice": false, "zero": false}, "axis": {"orient": "bottom", "values": [0.9, 0.8, 0.7], "tickSize": -11, "labelPadding": 21, "format": ".1f", "title": "η", "titleFont": "Liberation Serif", "titleFontStyle": "italic", "titleFontSize": 19, "titleFontWeight": "normal", "titleColor": "black", "titlePadding": 2}},
          "x2": {"datum": 0.6},
          "y": {"datum": 0, "type": "quantitative", "scale": {"domain": [-0.7, 0.7], "nice": false}, "axis": {"orient": "left", "values": [-0.5, -0.25, 0, 0.25, 0.5], "tickSize": -10, "labels": false, "title": null}}}},
        {"data": {"name": "lnir"}, "transform": [{"filter": "datum.set == 'o'"}],
         "mark": {"type": "point", "shape": "M0,-1L0.951,-0.309L0.588,0.809L-0.588,0.809L-0.951,-0.309Z", "filled": false, "stroke": "#0000ff", "strokeWidth": 1.1, "size": 105, "opacity": 1},
         "encoding": {
          "x": {"field": "eta", "type": "quantitative", "scale": {"domain": [1, 0.6], "nice": false, "zero": false}, "axis": {"orient": "top", "values": [0.9, 0.8, 0.7], "tickSize": -11, "labels": false, "title": null}},
          "y": {"field": "v", "type": "quantitative", "scale": {"domain": [-0.7, 0.7], "nice": false}, "axis": {"orient": "right", "values": [-0.5, -0.25, 0, 0.25, 0.5], "tickSize": -10, "labelPadding": 23, "format": "~g", "labelExpr": "abs(datum.value) != 0.25 ? datum.label : ''", "title": null}}}},
        {"data": {"name": "lnir"}, "transform": [{"filter": "datum.set == 'f'"}],
         "mark": {"type": "point", "shape": "M0,-1L0.951,-0.309L0.588,0.809L-0.588,0.809L-0.951,-0.309Z", "filled": true, "color": "#ff0000", "size": 115, "opacity": 1},
         "encoding": {
          "x": {"field": "eta", "type": "quantitative", "scale": {"domain": [1, 0.6], "nice": false, "zero": false}, "axis": {"orient": "bottom", "values": [0.95, 0.85, 0.75, 0.65], "tickSize": -6, "labels": false, "title": null}},
          "y": {"field": "v", "type": "quantitative", "scale": {"domain": [-0.7, 0.7], "nice": false}, "axis": null}}},
        {"mark": {"type": "text", "text": "L", "fontSize": 17, "dx": -101.7, "dy": 29},
         "encoding": {"x": {"datum": 0.6, "type": "quantitative", "scale": {"domain": [1, 0.6], "nice": false, "zero": false}, "axis": {"orient": "top", "values": [0.95, 0.85, 0.75, 0.65], "tickSize": -6, "labels": false, "title": null}},
          "y": {"datum": 0.7, "type": "quantitative", "scale": {"domain": [-0.7, 0.7], "nice": false}, "axis": null}}},
        {"mark": {"type": "text", "text": "NIR", "fontSize": 9.5, "fontWeight": "bold", "dx": -91, "dy": 32.5},
         "encoding": {"x": {"datum": 0.6, "type": "quantitative", "scale": {"domain": [1, 0.6], "nice": false, "zero": false}, "axis": null}, "y": {"datum": 0.7, "type": "quantitative", "scale": {"domain": [-0.7, 0.7], "nice": false}, "axis": null}}},
        {"mark": {"type": "text", "text": "(<\u2009r", "fontSize": 17, "dx": -70, "dy": 29},
         "encoding": {"x": {"datum": 0.6, "type": "quantitative", "scale": {"domain": [1, 0.6], "nice": false, "zero": false}, "axis": null}, "y": {"datum": 0.7, "type": "quantitative", "scale": {"domain": [-0.7, 0.7], "nice": false}, "axis": null}}},
        {"mark": {"type": "text", "text": "500", "fontSize": 12, "dx": -45, "dy": 32.5},
         "encoding": {"x": {"datum": 0.6, "type": "quantitative", "scale": {"domain": [1, 0.6], "nice": false, "zero": false}, "axis": null}, "y": {"datum": 0.7, "type": "quantitative", "scale": {"domain": [-0.7, 0.7], "nice": false}, "axis": null}}},
        {"mark": {"type": "text", "text": ")", "fontSize": 17, "dx": -24, "dy": 29},
         "encoding": {"x": {"datum": 0.6, "type": "quantitative", "scale": {"domain": [1, 0.6], "nice": false, "zero": false}, "axis": null}, "y": {"datum": 0.7, "type": "quantitative", "scale": {"domain": [-0.7, 0.7], "nice": false}, "axis": null}}}
       ]}
  ]
}
